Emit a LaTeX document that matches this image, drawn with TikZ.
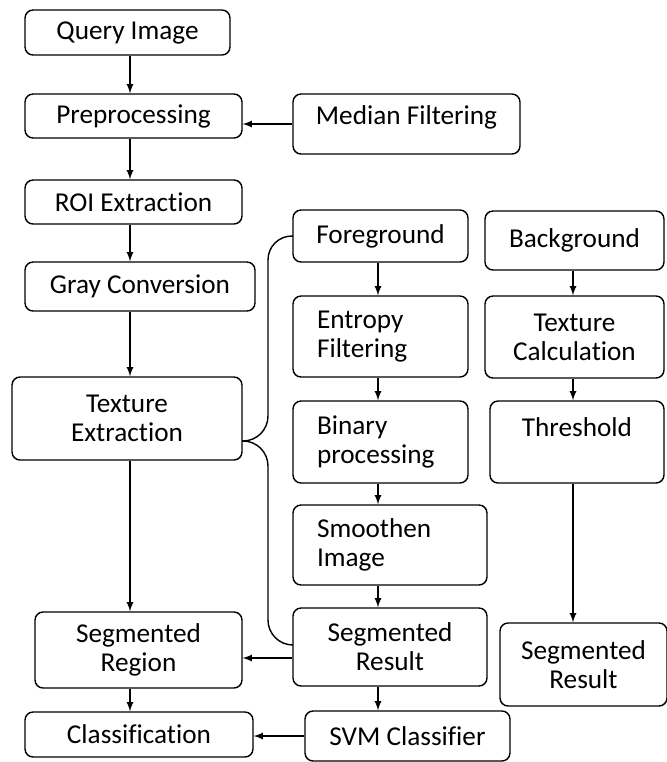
\documentclass[tikz,border=0pt]{standalone}
\usepackage{fontspec}
\setmainfont{Carlito}[Ligatures=NoCommon]
\tikzset{
  box/.style={draw, rounded corners=.16cm, line width=.8pt, inner sep=0pt,
    font=\fontsize{15.5}{16.5}\selectfont, align=center},
  lbox/.style={box, align=left, inner xsep=.48cm, text width=#1},
  arr/.style={-latex, line width=.8pt},
  link/.style={line width=.8pt, rounded corners=.5cm}
}
\begin{document}
\begin{tikzpicture}[x=.02cm,y=-.02cm]
  \useasboundingbox (0,0) rectangle (667,762);
  % left column
  \node[box, minimum width=4.1cm, minimum height=.9cm] (q) at (127.5,32.5) {Query Image};
  \node[box, minimum width=4.34cm, minimum height=.88cm] (pre) at (133.5,116) {Preprocessing};
  \node[box, minimum width=4.54cm, minimum height=1.2cm, text depth=.35cm] (med) at (406.5,124) {Median Filtering};
  \node[box, minimum width=4.34cm, minimum height=.88cm] (roi) at (133.5,202) {ROI Extraction};
  \node[box, minimum width=4.6cm, minimum height=.98cm] (gray) at (140,286.5) {Gray Conversion};
  \node[box, minimum width=4.6cm, minimum height=1.66cm] (tex) at (127,418.5) {Texture\\Extraction};
  \node[box, minimum width=4.14cm, minimum height=1.52cm] (sreg) at (138.5,650) {Segmented\\Region};
  \node[box, minimum width=4.56cm, minimum height=.9cm] (cls) at (139,734.5) {Classification};
  % foreground column
  \node[box, minimum width=3.5cm, minimum height=1.04cm] (fg) at (380.5,236) {Foreground};
  \node[lbox=2.54cm, minimum height=1.62cm] (ent) at (380.5,336.5) {Entropy\\Filtering};
  \node[lbox=2.54cm, minimum height=1.64cm] (bin) at (380.5,442) {Binary\\processing};
  \node[lbox=2.92cm, minimum height=1.6cm] (smo) at (390,545) {Smoothen\\Image};
  \node[box, minimum width=3.88cm, minimum height=1.56cm] (sres) at (390,647) {Segmented\\Result};
  \node[box, minimum width=4.1cm, minimum height=1.0cm] (svm) at (407.5,736) {SVM Classifier};
  % background column
  \node[box, minimum width=3.58cm, minimum height=1.18cm] (bg) at (574.5,240.5) {Background};
  \node[box, minimum width=3.58cm, minimum height=1.64cm] (calc) at (574.5,337) {Texture\\Calculation};
  \node[box, minimum width=3.48cm, minimum height=1.64cm] (thr) at (577,442) {Threshold\\\mbox{}};
  \node[box, minimum width=3.34cm, minimum height=1.66cm] (bres) at (583.5,664.5) {Segmented\\Result};

  \coordinate (colA) at (130,0);
  \coordinate (colB) at (378,0);
  \coordinate (colC) at (573,0);
  \coordinate (fork) at (242,441);

  \foreach \a/\b in {q/pre,pre/roi,roi/gray,gray/tex,tex/sreg,sreg/cls}
    \draw[arr] (\a.south -| colA) -- (\b.north -| colA);
  \foreach \a/\b in {fg/ent,ent/bin,bin/smo,smo/sres,sres/svm}
    \draw[arr] (\a.south -| colB) -- (\b.north -| colB);
  \foreach \a/\b in {bg/calc,calc/thr,thr/bres}
    \draw[arr] (\a.south -| colC) -- (\b.north -| colC);

  \draw[arr] (med.west) -- (med.west -| pre.east);
  \draw[arr] ([yshift=-.22cm]sres.west) -- ([yshift=-.22cm]sres.west -| sreg.east);
  \draw[arr] (svm.west) -- (svm.west -| cls.east);

  \draw[link] (fork) -- (268,441) -- (268,235) -- (fg.west);
  \draw[link] (fork) -- (268,441) -- (268,645) -- (sres.west |- 0,645);
\end{tikzpicture}
\end{document}
